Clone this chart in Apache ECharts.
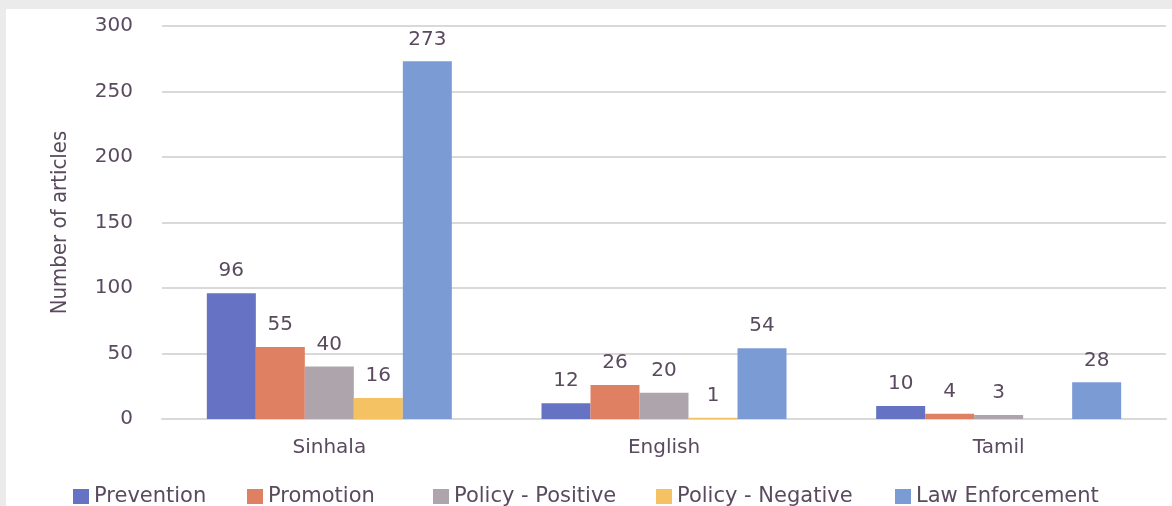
<!DOCTYPE html>
<html>
<head>
<meta charset="utf-8">
<script src="https://cdn.jsdelivr.net/npm/echarts@6/dist/echarts.min.js"></script>
<style>
  html, body { margin: 0; padding: 0; background: #ebebeb; }
  #chart { position: absolute; left: 6px; top: 9px; width: 1166px; height: 497px; background: #fff; }
</style>
</head>
<body>
<div id="chart"></div>
<script>
// categories and series
var languages = ["Sinhala", "English", "Tamil"]
var seriesNames = ["Prevention", "Promotion", "Policy - Positive", "Policy - Negative", "Law Enforcement"]
var prevention = [96, 12, 10]
var promotion = [55, 26, 4]
var policyPositive = [40, 20, 3]
var policyNegative = [16, 1, 0]
var lawEnforcement = [273, 54, 28]
var yTicks = [0, 50, 100, 150, 200, 250, 300]

var colors = ["#6673c4", "#e08062", "#ada5ab", "#f4c163", "#7b9bd4"]
var textColor = "#5a4a5f"
var font = "'DejaVu Sans', sans-serif"

// the original legend is letter-spaced, so each entry gets its own slot
var legendLeft = [62, 236, 422, 645, 884]

function makeSeries(i, data) {
  return {
    name: seriesNames[i],
    type: "bar",
    data: data,
    barWidth: 49,
    barGap: "0%",
    itemStyle: { color: colors[i] },
    label: {
      show: true,
      position: "top",
      distance: 12,
      color: textColor,
      fontFamily: font,
      fontSize: 20,
      formatter: function (p) { return p.value === 0 ? "" : p.value }
    }
  }
}

var legends = seriesNames.map(function (name, i) {
  return {
    left: legendLeft[i],
    top: 472,
    itemWidth: 16,
    itemHeight: 15,
    icon: "rect",
    data: [name],
    textStyle: { color: textColor, fontFamily: font, fontSize: 21 }
  }
})

var chart = echarts.init(document.getElementById("chart"))
chart.setOption({
  animation: false,
  grid: { left: 156, right: 6, top: 17, bottom: 87 },
  legend: legends,
  xAxis: {
    type: "category",
    data: languages,
    axisTick: { show: false },
    axisLine: { lineStyle: { color: "#d9d9d9", width: 2 } },
    axisLabel: { color: textColor, fontFamily: font, fontSize: 20, margin: 19 }
  },
  yAxis: {
    type: "value",
    min: yTicks[0],
    max: yTicks[yTicks.length - 1],
    interval: 50,
    name: "Number of articles",
    nameLocation: "middle",
    nameGap: 91,
    nameTextStyle: { color: textColor, fontFamily: "'Liberation Sans Narrow', 'DejaVu Sans Condensed', sans-serif", fontSize: 22 },
    axisLine: { show: false },
    axisTick: { show: false },
    axisLabel: { color: textColor, fontFamily: font, fontSize: 20, margin: 29 },
    splitLine: { lineStyle: { color: "#d9d9d9", width: 2 } }
  },
  series: [
    makeSeries(0, prevention),
    makeSeries(1, promotion),
    makeSeries(2, policyPositive),
    makeSeries(3, policyNegative),
    makeSeries(4, lawEnforcement)
  ]
})
</script>
</body>
</html>
